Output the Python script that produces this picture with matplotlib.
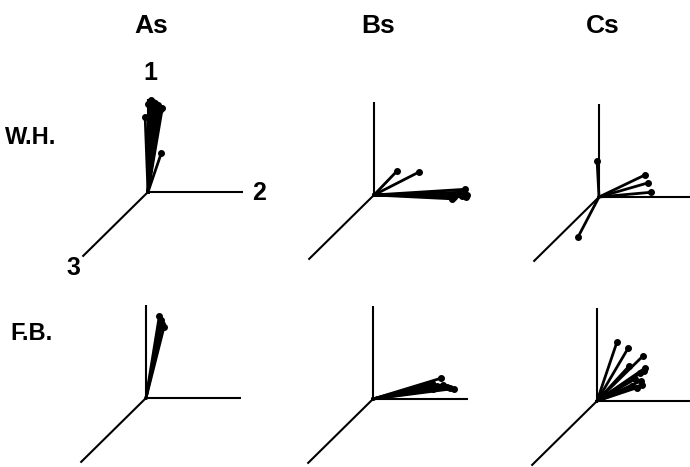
# Oblique 3-D vector plots, two subjects x three stimulus sets
import matplotlib.pyplot as plt

W, H = 690, 467
SCALE = 95  # pixels per unit axis length

subjects = ["W.H.", "F.B."]
stimuli = ["As", "Bs", "Cs"]
axis_names = ["1", "2", "3"]

# projected axes: 2 to the right, 1 upwards, 3 down-left
axis2 = (1.0, 0.0)
axis1 = (0.0, 0.98)
axis3 = (-0.69, -0.68)

# projected vector endpoints (x, y) in axis units, per panel
wh_as_x = [0.03, 0.07, 0.15, -0.03, 0.14, 0.05, 0.10, 0.09, 0.12, 0.06, 0.00, 0.13]
wh_as_y = [0.97, 0.94, 0.88, 0.79, 0.41, 0.95, 0.92, 0.89, 0.90, 0.84, 0.93, 0.86]
wh_bs_x = [0.24, 0.47, 0.96, 0.98, 0.82, 0.95, 0.93, 0.97, 0.89, 0.84]
wh_bs_y = [0.25, 0.24, 0.06, 0.00, -0.04, 0.03, -0.01, -0.02, 0.01, -0.02]
wh_cs_x = [-0.02, 0.48, 0.52, 0.55, -0.22]
wh_cs_y = [0.38, 0.23, 0.15, 0.05, -0.42]
fb_as_x = [0.14, 0.19, 0.16, 0.17]
fb_as_y = [0.86, 0.75, 0.82, 0.78]
fb_bs_x = [0.72, 0.67, 0.78, 0.85, 0.62, 0.58, 0.74, 0.81, 0.63, 0.53]
fb_bs_y = [0.22, 0.14, 0.13, 0.11, 0.17, 0.15, 0.15, 0.12, 0.11, 0.13]
fb_cs_x = [0.21, 0.33, 0.48, 0.51, 0.47, 0.34, 0.45, 0.42, 0.49, 0.46, 0.40, 0.37]
fb_cs_y = [0.62, 0.56, 0.47, 0.35, 0.17, 0.37, 0.29, 0.14, 0.32, 0.21, 0.23, 0.16]

panels = [
    [(wh_as_x, wh_as_y), (wh_bs_x, wh_bs_y), (wh_cs_x, wh_cs_y)],
    [(fb_as_x, fb_as_y), (fb_bs_x, fb_bs_y), (fb_cs_x, fb_cs_y)],
]
# panel origins in pixels (x from left, y from top)
origins = [[(148, 192), (374, 195), (599, 197)],
           [(146, 398), (373, 399), (597, 401)]]

plt.rcParams['font.family'] = ['Liberation Sans', 'DejaVu Sans']

fig = plt.figure(figsize=(W / 100, H / 100), dpi=100)
fig.patch.set_facecolor('white')

lo, hi = -0.8, 1.1
for r in range(2):
    for c in range(3):
        ox, oy = origins[r][c]
        left = (ox + lo * SCALE) / W
        bottom = 1 - (oy - lo * SCALE) / H
        ax = fig.add_axes([left, bottom, (hi - lo) * SCALE / W, (hi - lo) * SCALE / H])
        ax.set_xlim(lo, hi)
        ax.set_ylim(lo, hi)
        ax.axis('off')
        for a in (axis1, axis2, axis3):
            ax.plot([0, a[0]], [0, a[1]], color='black', lw=1.5,
                    solid_capstyle='butt', clip_on=False)
        xs, ys = panels[r][c]
        for x, y in zip(xs, ys):
            ax.plot([0, x], [0, y], color='black', lw=2.0, clip_on=False)
            ax.plot(x, y, 'o', color='black', ms=4, clip_on=False)

# column titles
for name, x in zip(stimuli, [151, 378, 603]):
    fig.text(x / W, 1 - 26 / H, name, ha='center', va='center',
             fontsize=19, fontweight='bold')
# row labels
for name, y in zip(subjects, [137, 333]):
    fig.text(31 / W, 1 - y / H, name, ha='center', va='center',
             fontsize=17, fontweight='bold')
# axis numbers on first panel
for name, (x, y) in zip(axis_names, [(150, 73), (259, 193), (73, 268)]):
    fig.text(x / W, 1 - y / H, name, ha='center', va='center',
             fontsize=18, fontweight='bold')

fig.savefig("out.png", dpi=100, facecolor='white')
